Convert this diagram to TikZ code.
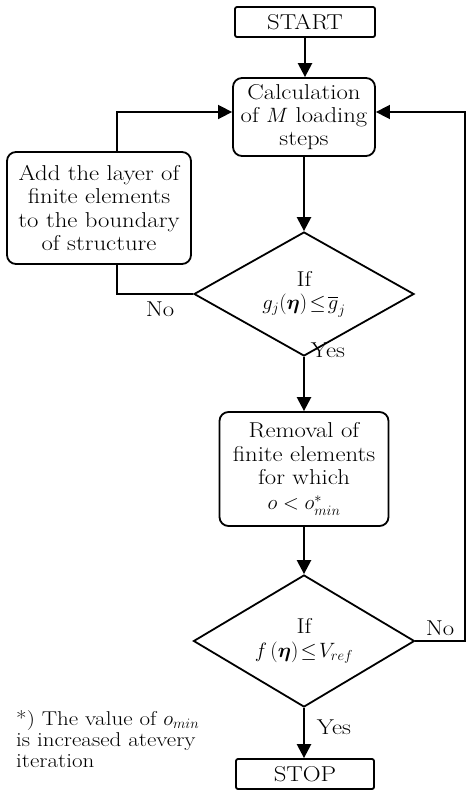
\documentclass[tikz,border=0pt]{standalone}
\usepackage{amsmath,amssymb,bm}
\usepackage{fontspec}
\setmainfont{Latin Modern Roman}[FakeStretch=1.15]
\usetikzlibrary{arrows.meta,shapes.geometric}
\begin{document}
\begin{tikzpicture}[x=1pt,y=-1pt,
  every node/.style={font=\fontsize{21.5}{23.3}\selectfont},
  termbox/.style={draw,line width=1.8pt,rounded corners=2pt,minimum width=140pt,minimum height=30pt,inner sep=0pt},
  procbox/.style={draw,line width=1.8pt,rounded corners=9pt,align=center,inner sep=0pt},
  decbox/.style={draw,diamond,line width=1.8pt,aspect=1.77,inner sep=0pt,align=center},
  arr/.style={line width=2.4pt,-{Triangle[length=14pt,width=14pt]}},
  loop/.style={line width=1.6pt},
  loopa/.style={line width=1.6pt,-{Triangle[length=14pt,width=14pt]}},
  lab/.style={inner sep=0pt}]
\useasboundingbox (0,0) rectangle (474,793);
\node[termbox] (start) at (305,22) {START};
\node[procbox,minimum width=142pt,minimum height=78pt] (calc) at (304,117) {Calculation\\of $M$ loading\\steps};
\node[procbox,minimum width=184pt,minimum height=112pt] (addl) at (99,208) {Add the layer of\\finite elements\\to the boundary\\of structure};
\node[decbox,minimum width=220pt,minimum height=124pt] (d1) at (304,294) {If\\$g_j(\bm{\eta})\!\leq\!\overline{g}_j$};
\node[procbox,minimum width=169pt,minimum height=114pt] (rem) at (304,469) {Removal of\\finite elements\\for which\\[2pt]$o<o^*_{min}$};
\node[decbox,minimum width=221pt,minimum height=132pt] (d2) at (304,641) {If\\$f\,(\bm{\eta})\!\leq\! V_{ref}$};
\node[termbox,minimum width=138pt] (stop) at (305,774) {STOP};
\coordinate (ltop) at (117,112);
\coordinate (lbot) at (117,294);
\coordinate (rbot) at (465,641);
\coordinate (rtop) at (465,112);
\draw[arr] (start.south) -- (start.south |- calc.north);
\draw[arr] (calc.south) -- (d1.north);
\draw[arr] (d1.south) -- (rem.north);
\draw[arr] (rem.south) -- (d2.north);
\draw[arr] (d2.south) -- (d2.south |- stop.north);
\draw[loop] (d1.west) -- (lbot) -- (lbot |- addl.south);
\draw[loopa] (ltop |- addl.north) -- (ltop) -- (ltop -| calc.west);
\draw[loopa] (d2.east) -- (rbot) -- (rtop) -- (rtop -| calc.east);
\node[lab] (no1) at (160,309) {No};
\node[lab] (yes1) at (328,350) {Yes};
\node[lab] (no2) at (440,628) {No};
\node[lab] (yes2) at (334,727) {Yes};
\node[anchor=north west,align=left,inner sep=0pt,font=\fontsize{20}{21}\selectfont] (note) at (16,710) {*) The value of $o_{min}$\\is increased atevery\\iteration};
\end{tikzpicture}
\end{document}
